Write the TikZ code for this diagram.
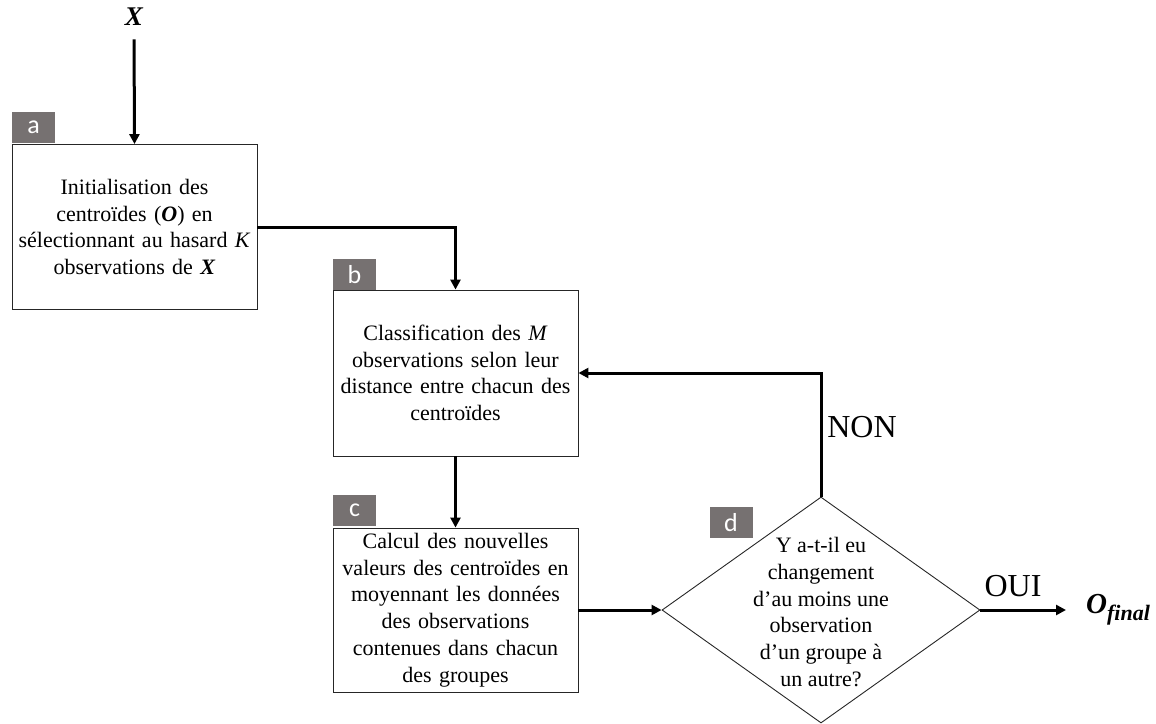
\documentclass[tikz,border=0pt]{standalone}
\usepackage{fontspec}
\setmainfont{Liberation Serif}
\newfontfamily\labfont{Carlito}
\usetikzlibrary{shapes.geometric,arrows.meta}
\definecolor{tagc}{HTML}{767171}
\begin{document}
\begin{tikzpicture}[x=1pt,y=-1pt,
  box/.style={draw=black!85, line width=0.9pt, minimum width=245pt, text width=238pt, align=center, inner sep=0pt, font=\fontsize{22}{26.7}\selectfont},
  tag/.style={fill=tagc, text=white, font=\labfont\fontsize{26}{26}\selectfont, minimum width=43pt, minimum height=31pt, inner sep=0pt},
  conn/.style={line width=3pt, -{Triangle[length=10pt,width=10pt]}},
  yn/.style={font=\fontsize{32}{32}\selectfont, inner sep=0pt},
]
\useasboundingbox (0,0) rectangle (1156,723);

% boxes
\node[box, minimum height=165pt] (a) at (134.5,227) {Initialisation des\\ centroïdes (\textbf{\textit{O}}) en\\ sélectionnant au hasard \textit{K}\\ observations de \textbf{\textit{X}}};
\node[box, minimum height=166pt] (b) at (455.5,373) {Classification des \textit{M}\\ observations selon leur\\ distance entre chacun des\\ centroïdes};
\node[box, minimum height=164pt] (c) at (455.5,610) {Calcul des nouvelles\\ valeurs des centroïdes en\\ moyennant les données\\ des observations\\ contenues dans chacun\\ des groupes};
\node[diamond, draw=black!85, line width=0.9pt, minimum width=318pt, minimum height=226pt, inner sep=0pt] (d) at (821,610) {};
\node[align=center, font=\fontsize{22}{26.7}\selectfont] (dt) at (821,612) {Y a-t-il eu\\ changement\\ d’au moins une\\ observation\\ d’un groupe à\\ un autre?};

% tags
\node[tag] (ta) at (33.5,127.5) {a};
\node[tag] (tb) at (354.5,274.5) {b};
\node[tag] (tc) at (354.5,510.5) {c};
\node[tag] (td) at (731,522.5) {d};

% input / output
\node[font=\fontsize{27}{27}\selectfont\bfseries\itshape] (x) at (134,17) {X};
\node[anchor=west, inner sep=0pt, xshift=20pt, font=\fontsize{29}{29}\selectfont\bfseries\itshape] (of) at (1066,610) {O\textsubscript{\fontsize{22}{22}\selectfont final}};
\coordinate (ofw) at (1066,610);

\node[yn] (non) at (862,427) {NON};
\node[yn] (oui) at (1013,586) {OUI};

% connectors
\draw[conn, shorten <=10pt] (x.south) -- (a.north);
\draw[conn] (a.east) -| (b.north);
\draw[conn] (b.south) -- (c.north);
\draw[conn] (c.east) -- (d.west);
\draw[conn] (d.north) |- (b.east);
\draw[conn] (d.east) -- (ofw);
\end{tikzpicture}
\end{document}
